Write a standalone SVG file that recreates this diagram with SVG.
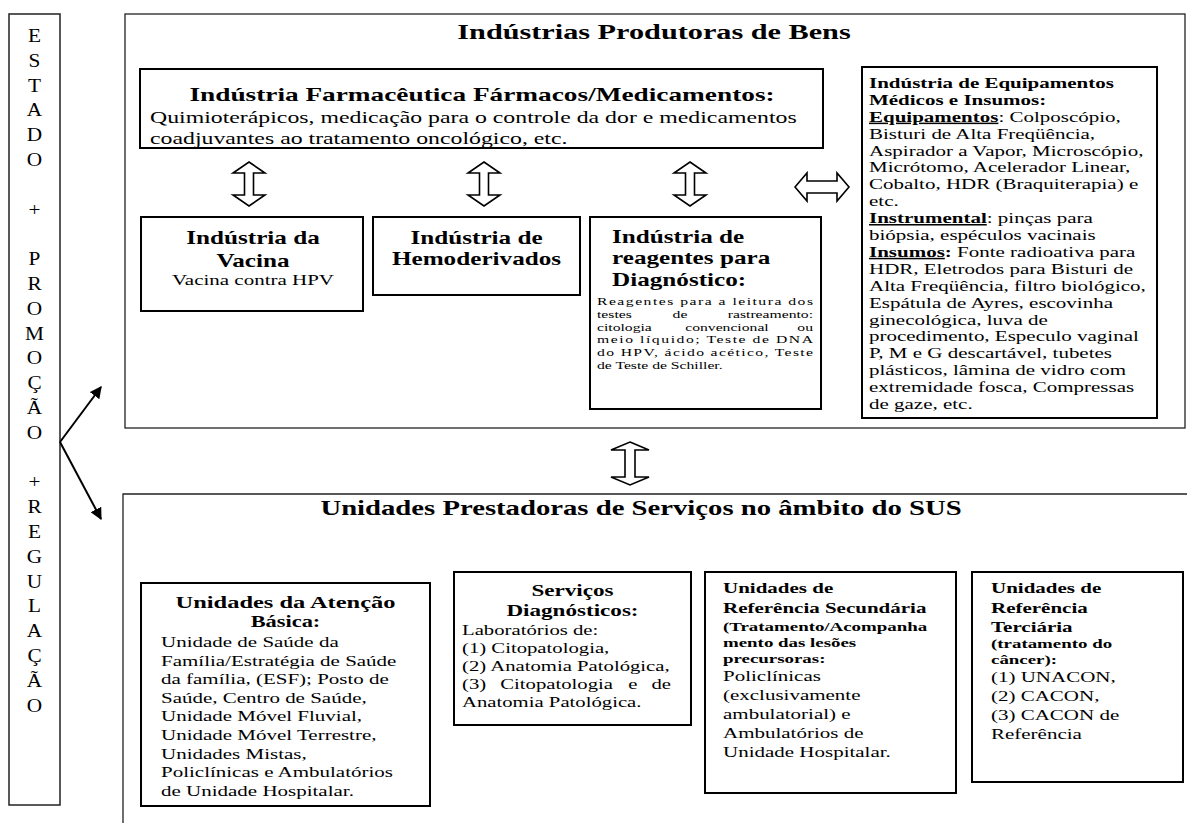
<svg xmlns="http://www.w3.org/2000/svg" width="1187" height="823" viewBox="0 0 1187 823">
<style>
text{font-family:"Liberation Serif","Times New Roman",serif;fill:#000}
.b{font-weight:bold}
.big{fill:none;stroke:#222;stroke-width:1.3}
.box{fill:#fff;stroke:#000;stroke-width:2}
.dbl{fill:#fff;stroke:#000;stroke-width:1.6;stroke-linejoin:miter}
.conn{stroke:#000;stroke-width:2;fill:none}
.u{text-decoration:underline}
</style>
<defs>
<marker id="ah" viewBox="0 0 10 10" refX="9" refY="5" markerWidth="6" markerHeight="6" orient="auto" markerUnits="strokeWidth">
<path d="M0,0 L10,5 L0,10 Z" fill="#000"/>
</marker>
</defs>
<rect width="1187" height="823" fill="#fff"/>

<g id="estado">
<rect x="9" y="14" width="51" height="791" fill="#fff" stroke="#222" stroke-width="1.5"/>
<g font-size="19" text-anchor="middle">
<text transform="translate(34.5,42) scale(1.12,1)">E</text>
<text transform="translate(34.5,66.8) scale(1.12,1)">S</text>
<text transform="translate(34.5,91.6) scale(1.12,1)">T</text>
<text transform="translate(34.5,116.4) scale(1.12,1)">A</text>
<text transform="translate(34.5,141.2) scale(1.12,1)">D</text>
<text transform="translate(34.5,166) scale(1.12,1)">O</text>
<text transform="translate(34.5,215.6) scale(1.12,1)">+</text>
<text transform="translate(34.5,265.2) scale(1.12,1)">P</text>
<text transform="translate(34.5,290) scale(1.12,1)">R</text>
<text transform="translate(34.5,314.8) scale(1.12,1)">O</text>
<text transform="translate(34.5,339.6) scale(1.12,1)">M</text>
<text transform="translate(34.5,364.4) scale(1.12,1)">O</text>
<text transform="translate(34.5,389.2) scale(1.12,1)">Ç</text>
<text transform="translate(34.5,414) scale(1.12,1)">Ã</text>
<text transform="translate(34.5,438.8) scale(1.12,1)">O</text>
<text transform="translate(34.5,488.4) scale(1.12,1)">+</text>
<text transform="translate(34.5,513.2) scale(1.12,1)">R</text>
<text transform="translate(34.5,538) scale(1.12,1)">E</text>
<text transform="translate(34.5,562.8) scale(1.12,1)">G</text>
<text transform="translate(34.5,587.6) scale(1.12,1)">U</text>
<text transform="translate(34.5,612.4) scale(1.12,1)">L</text>
<text transform="translate(34.5,637.2) scale(1.12,1)">A</text>
<text transform="translate(34.5,662) scale(1.12,1)">Ç</text>
<text transform="translate(34.5,686.8) scale(1.12,1)">Ã</text>
<text transform="translate(34.5,711.6) scale(1.12,1)">O</text>
</g>
</g>

<g id="industrias">
<rect class="big" x="125" y="14" width="1060" height="414"/>
<text class="b" font-size="20" text-anchor="middle" transform="translate(654,39) scale(1.4,1)" textLength="281" lengthAdjust="spacingAndGlyphs">Indústrias Produtoras de Bens</text>
</g>

<g id="farmaceutica">
<rect class="box" x="140" y="69" width="683" height="79"/>
<text class="b" font-size="19.5" text-anchor="middle" transform="translate(482,101) scale(1.4,1)">Indústria Farmacêutica Fármacos/Medicamentos:</text>
<g transform="translate(150,0) scale(1.4,1)" font-size="17">
<text x="0" y="123">Quimioterápicos, medicação para o controle da dor e medicamentos</text>
<text x="0" y="144">coadjuvantes ao tratamento oncológico, etc.</text>
</g>
</g>

<g id="vacina">
<rect class="box" x="141" y="217" width="222" height="94"/>
<g transform="translate(253,0) scale(1.4,1)" text-anchor="middle">
<text class="b" font-size="18" x="0" y="244">Indústria da</text>
<text class="b" font-size="18" x="0" y="267">Vacina</text>
<text font-size="15" x="0" y="285">Vacina contra HPV</text>
</g>
</g>

<g id="hemoderivados">
<rect class="box" x="373" y="217" width="207" height="78"/>
<g transform="translate(476.5,0) scale(1.4,1)" text-anchor="middle" font-size="18">
<text class="b" x="0" y="244">Indústria de</text>
<text class="b" x="0" y="265">Hemoderivados</text>
</g>
</g>

<g id="reagentes">
<rect class="box" x="590" y="217" width="231" height="192"/>
<g transform="translate(612,0) scale(1.4,1)" font-size="18">
<text class="b" x="0" y="243">Indústria de</text>
<text class="b" x="0" y="264">reagentes para</text>
<text class="b" x="0" y="286">Diagnóstico:</text>
</g>
<g transform="translate(597,0) scale(1.4,1)" font-size="11.2">
<text x="0" y="305" textLength="154.3" lengthAdjust="spacing">Reagentes para a leitura dos</text>
<text y="317.8"><tspan x="0">testes</tspan><tspan x="54">de</tspan><tspan x="154.3" text-anchor="end">rastreamento:</tspan></text>
<text y="330.6"><tspan x="0">citologia</tspan><tspan x="63">convencional</tspan><tspan x="154.3" text-anchor="end">ou</tspan></text>
<text x="0" y="343.4" textLength="154.3" lengthAdjust="spacing">meio líquido; Teste de DNA</text>
<text x="0" y="356.2" textLength="154.3" lengthAdjust="spacing">do HPV, ácido acético, Teste</text>
<text x="0" y="369">de Teste de Schiller.</text>
</g>
</g>

<g id="equipamentos">
<rect class="box" x="862" y="67" width="295" height="351"/>
<g transform="translate(869,0) scale(1.4,1)" font-size="15">
<text class="b" x="0" y="88">Indústria de Equipamentos</text>
<text class="b" x="0" y="104.9">Médicos e Insumos:</text>
<text x="0" y="121.8"><tspan class="b u">Equipamentos</tspan>: Colposcópio,</text>
<text x="0" y="138.7">Bisturi de Alta Freqüência,</text>
<text x="0" y="155.6">Aspirador a Vapor, Microscópio,</text>
<text x="0" y="172.5">Micrótomo, Acelerador Linear,</text>
<text x="0" y="189.4">Cobalto, HDR (Braquiterapia) e</text>
<text x="0" y="206.3">etc.</text>
<text x="0" y="223.2"><tspan class="b u">Instrumental</tspan>: pinças para</text>
<text x="0" y="240.1">biópsia, espéculos vacinais</text>
<text x="0" y="257"><tspan class="b u">Insumos</tspan><tspan class="b">:</tspan> Fonte radioativa para</text>
<text x="0" y="273.9">HDR, Eletrodos para Bisturi de</text>
<text x="0" y="290.8">Alta Freqüência, filtro biológico,</text>
<text x="0" y="307.7">Espátula de Ayres, escovinha</text>
<text x="0" y="324.6">ginecológica, luva de</text>
<text x="0" y="341.5">procedimento, Especulo vaginal</text>
<text x="0" y="358.4">P, M e G descartável, tubetes</text>
<text x="0" y="375.3">plásticos, lâmina de vidro com</text>
<text x="0" y="392.2">extremidade fosca, Compressas</text>
<text x="0" y="409.1">de gaze, etc.</text>
</g>
</g>

<g id="unidades">
<path class="big" d="M1187,494 H123 V823"/>
<text class="b" font-size="21" text-anchor="middle" transform="translate(641,515) scale(1.4,1)" textLength="458" lengthAdjust="spacingAndGlyphs">Unidades Prestadoras de Serviços no âmbito do SUS</text>
</g>

<g id="atencao-basica">
<rect class="box" x="141" y="583" width="289" height="223"/>
<g transform="translate(285.5,0) scale(1.4,1)" text-anchor="middle" font-size="16">
<text class="b" x="0" y="608" textLength="157" lengthAdjust="spacingAndGlyphs">Unidades da Atenção</text>
<text class="b" x="0" y="627">Básica:</text>
</g>
<g transform="translate(161,0) scale(1.4,1)" font-size="15">
<text x="0" y="647">Unidade de Saúde da</text>
<text x="0" y="665.6">Família/Estratégia de Saúde</text>
<text x="0" y="684.2">da família, (ESF); Posto de</text>
<text x="0" y="702.8">Saúde, Centro de Saúde,</text>
<text x="0" y="721.4">Unidade Móvel Fluvial,</text>
<text x="0" y="740">Unidade Móvel Terrestre,</text>
<text x="0" y="758.6">Unidades Mistas,</text>
<text x="0" y="777.2">Policlínicas e Ambulatórios</text>
<text x="0" y="795.8">de Unidade Hospitalar.</text>
</g>
</g>

<g id="servicos-diagnosticos">
<rect class="box" x="454" y="572" width="237" height="153"/>
<g transform="translate(572.5,0) scale(1.4,1)" text-anchor="middle" font-size="16.5">
<text class="b" x="0" y="596">Serviços</text>
<text class="b" x="0" y="616">Diagnósticos:</text>
</g>
<g transform="translate(462,0) scale(1.4,1)" font-size="14.8">
<text x="0" y="635">Laboratórios de:</text>
<text x="0" y="653">(1) Citopatologia,</text>
<text x="0" y="671">(2) Anatomia Patológica,</text>
<text y="689"><tspan x="0">(3)</tspan><tspan x="27.3">Citopatologia</tspan><tspan x="118.7">e</tspan><tspan x="149.3" text-anchor="end">de</tspan></text>
<text x="0" y="707">Anatomia Patológica.</text>
</g>
</g>

<g id="referencia-secundaria">
<rect class="box" x="705" y="572" width="251" height="221"/>
<g transform="translate(723,0) scale(1.4,1)">
<text class="b" font-size="15" x="0" y="593">Unidades de</text>
<text class="b" font-size="15" x="0" y="613">Referência Secundária</text>
<text class="b" font-size="13.5" x="0" y="631">(Tratamento/Acompanha</text>
<text class="b" font-size="13.5" x="0" y="647">mento das lesões</text>
<text class="b" font-size="13.5" x="0" y="663">precursoras:</text>
<text font-size="15" x="0" y="681">Policlínicas</text>
<text font-size="15" x="0" y="700">(exclusivamente</text>
<text font-size="15" x="0" y="719">ambulatorial) e</text>
<text font-size="15" x="0" y="738">Ambulatórios de</text>
<text font-size="15" x="0" y="757">Unidade Hospitalar.</text>
</g>
</g>

<g id="referencia-terciaria">
<rect class="box" x="972" y="572" width="211" height="210"/>
<g transform="translate(991,0) scale(1.4,1)">
<text class="b" font-size="15" x="0" y="593">Unidades de</text>
<text class="b" font-size="15" x="0" y="613">Referência</text>
<text class="b" font-size="15" x="0" y="632">Terciária</text>
<text class="b" font-size="13.5" x="0" y="648">(tratamento do</text>
<text class="b" font-size="13.5" x="0" y="664">câncer):</text>
<text font-size="15" x="0" y="682">(1) UNACON,</text>
<text font-size="15" x="0" y="701">(2) CACON,</text>
<text font-size="15" x="0" y="720">(3) CACON de</text>
<text font-size="15" x="0" y="739">Referência</text>
</g>
</g>

<g id="connectors">
<path class="dbl" d="M249,162 L265,173 L253.5,173 L253.5,195 L265,195 L249,206 L233,195 L244.5,195 L244.5,173 L233,173 Z"/>
<path class="dbl" d="M484,162 L500,173 L488.5,173 L488.5,195 L500,195 L484,206 L468,195 L479.5,195 L479.5,173 L468,173 Z"/>
<path class="dbl" d="M690,162 L706,173 L694.5,173 L694.5,195 L706,195 L690,206 L674,195 L685.5,195 L685.5,173 L674,173 Z"/>
<path class="dbl" d="M795,187 L807,173 L807,181 L837,181 L837,173 L849,187 L837,201 L837,193 L807,193 L807,201 Z"/>
<path class="dbl" d="M630,442 L649,450 L635,450 L635,477 L649,477 L630,485 L611,477 L625,477 L625,450 L611,450 Z"/>
<line class="conn" x1="60" y1="442" x2="101" y2="387" marker-end="url(#ah)"/>
<line class="conn" x1="60" y1="442" x2="101" y2="519" marker-end="url(#ah)"/>
</g>
</svg>
